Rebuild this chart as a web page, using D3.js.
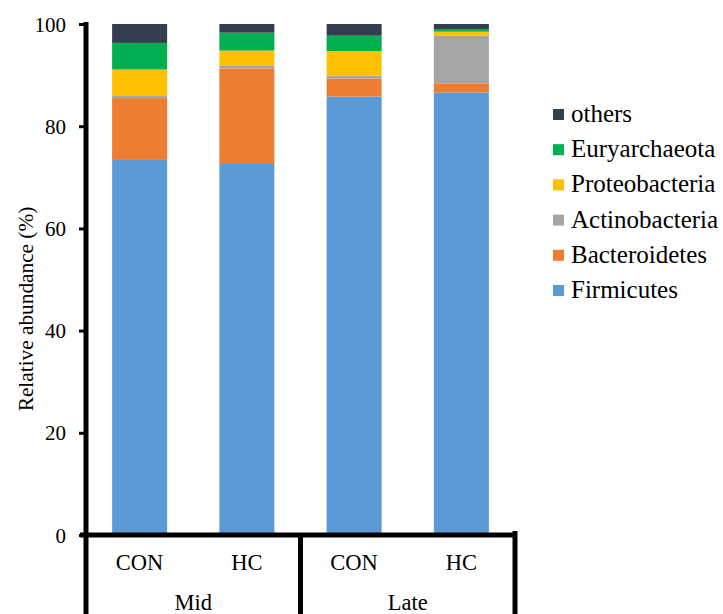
<!DOCTYPE html>
<html>
<head>
<meta charset="utf-8">
<script src="https://cdn.jsdelivr.net/npm/d3@7"></script>
<style>
  html, body { margin: 0; padding: 0; background: #fff; }
  svg { display: block; }
</style>
</head>
<body>
<svg id="chart" width="723" height="614" font-family="Liberation Serif, Times New Roman, serif" font-size="22.5"></svg>
<script>
// ---- data ----
const samples = ["Mid CON", "Mid HC", "Late CON", "Late HC"];
const sampleLabels = ["CON", "HC", "CON", "HC"];
const groups = ["Mid", "Late"];
const phyla = ["Firmicutes", "Bacteroidetes", "Actinobacteria", "Proteobacteria", "Euryarchaeota", "others"];
const firmicutes     = [73.4, 72.6, 85.8, 86.6];
const bacteroidetes  = [12.1, 18.7, 3.5, 1.8];
const actinobacteria = [0.4, 0.6, 0.6, 9.3];
const proteobacteria = [5.2, 2.9, 4.8, 0.8];
const euryarchaeota  = [5.2, 3.5, 3.0, 0.5];
const others         = [3.7, 1.7, 2.3, 1.0];
const yTicks = [0, 20, 40, 60, 80, 100];
const colors = ["#5B9BD5", "#ED7D31", "#A5A5A5", "#FFC000", "#00B050", "#333F50"];

const seriesValues = [firmicutes, bacteroidetes, actinobacteria, proteobacteria, euryarchaeota, others];
const table = samples.map((s, i) => {
  const row = { sample: s };
  phyla.forEach((p, j) => row[p] = seriesValues[j][i]);
  return row;
});

// ---- layout ----
const svg = d3.select("#chart");
const x0 = 86, x1 = 515, yBottom = 535, yTop = 24;

const x = d3.scaleBand().domain(samples).range([x0, x1]).paddingInner(0.487).paddingOuter(0.2435);
const y = d3.scaleLinear().domain([0, 100]).range([yBottom, yTop]);
const color = d3.scaleOrdinal().domain(phyla).range(colors);

const stacked = d3.stack().keys(phyla)(table);

// bars
svg.append("g").selectAll("g").data(stacked).join("g")
  .attr("fill", d => color(d.key))
  .selectAll("rect").data(d => d).join("rect")
  .attr("x", d => x(d.data.sample))
  .attr("width", x.bandwidth())
  .attr("y", d => y(d[1]))
  .attr("height", d => y(d[0]) - y(d[1]));

// y axis
const yAxis = d3.axisLeft(y).tickValues(yTicks).tickSize(7).tickPadding(13).tickSizeOuter(0);
const gy = svg.append("g").attr("transform", `translate(${x0},0)`).call(yAxis);
gy.attr("font-family", null).attr("font-size", 21);
gy.select(".domain").attr("stroke", "#000").attr("stroke-width", 5).attr("d", `M0,${yTop - 2}V${yBottom}`);
gy.selectAll(".tick line").attr("stroke", "#000").attr("stroke-width", 3);
gy.selectAll(".tick text").attr("fill", "#000").attr("dy", "0.34em");

// y title
svg.append("text")
  .attr("transform", "translate(33,309) rotate(-90)")
  .attr("text-anchor", "middle")
  .attr("font-size", 21.3)
  .text("Relative abundance (%)");

// x-axis table lines
const lines = svg.append("g").attr("stroke", "#000").attr("stroke-width", 5);
lines.append("line").attr("x1", x0 - 6).attr("x2", x1 + 2).attr("y1", yBottom).attr("y2", yBottom);
lines.append("line").attr("x1", x0).attr("x2", x0).attr("y1", yBottom).attr("y2", 614);
const groupBounds = [x0, (x(samples[1]) + x.bandwidth() + x(samples[2])) / 2, x1];
lines.append("line").attr("x1", groupBounds[1]).attr("x2", groupBounds[1]).attr("y1", yBottom).attr("y2", 614);
lines.append("line").attr("x1", x1).attr("x2", x1).attr("y1", yBottom - 4).attr("y2", 614);

// sample labels
svg.append("g").selectAll("text").data(samples).join("text")
  .attr("x", d => x(d) + x.bandwidth() / 2)
  .attr("y", 570)
  .attr("text-anchor", "middle")
  .text((d, i) => sampleLabels[i]);

// group labels
svg.append("g").selectAll("text").data(groups).join("text")
  .attr("x", (d, i) => (groupBounds[i] + groupBounds[i + 1]) / 2)
  .attr("y", 610)
  .attr("text-anchor", "middle")
  .text(d => d);

// legend (top to bottom: reverse order), absolute positions
const legendItems = phyla.slice().reverse();
const legendY = d3.scalePoint().domain(legendItems).range([122, 298]);
svg.append("g").selectAll("rect").data(legendItems).join("rect")
  .attr("x", 553).attr("y", d => legendY(d) - 13)
  .attr("width", 11).attr("height", 11)
  .attr("fill", d => color(d));
svg.append("g").selectAll("text").data(legendItems).join("text")
  .attr("x", 571).attr("y", d => legendY(d))
  .attr("font-size", 25)
  .text(d => d);
</script>
</body>
</html>
